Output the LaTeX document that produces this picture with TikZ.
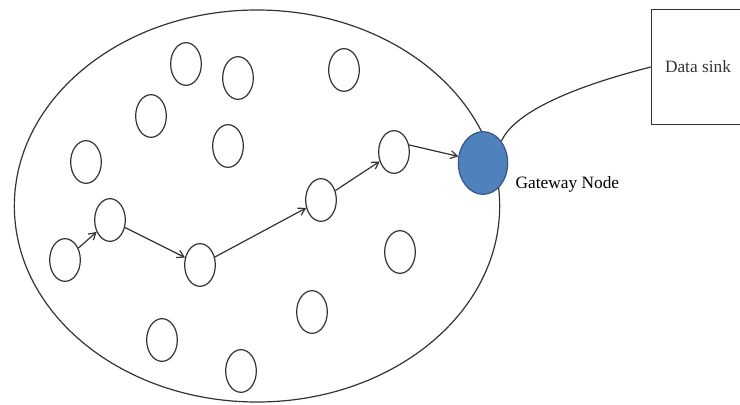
\documentclass[tikz,border=0pt]{standalone}
\usepackage{fontspec}
\setmainfont{Liberation Serif}
\usetikzlibrary{arrows.meta,shapes.geometric}
\definecolor{gwblue}{RGB}{79,129,189}
\definecolor{gwedge}{RGB}{56,83,135}

\begin{document}
\begin{tikzpicture}[x=0.75pt,y=-0.75pt,>={Straight Barb[length=5pt,width=6pt]},
  font=\fontsize{13}{15}\selectfont,
  sensor/.style={ellipse,draw=black!80,line width=0.9pt,minimum width=23pt,minimum height=32pt,inner sep=0pt},
  link/.style={black!80,line width=0.9pt}]
  \useasboundingbox (0,0) rectangle (740,404);
  % sensor field
  \draw[link] (257,206) ellipse [x radius=182pt,y radius=147pt];
  % sensor nodes
  \foreach \n/\x/\y in {1/186/64,2/238/78,3/344/70,4/151/116,5/228/146,6/86/162,
      7/110/220,8/65/260,9/200/265,10/321/200,11/394/152,12/400/252,
      13/312/312,14/162/340,15/241/371}
    \node[sensor] (s\n) at (\x,\y) {};
  \node[ellipse,draw=gwedge,fill=gwblue,line width=0.9pt,minimum width=37pt,minimum height=47pt] (gw) at (483,163) {};
  \node[anchor=west] (gwlab) at (511,184) {Gateway Node};
  \node[draw,link,minimum width=70pt,minimum height=86pt] (sink) at (698,67) {Data sink};
  % route to the gateway
  \draw[link,->] (s8) -- (s7);
  \draw[link,->] (s7) -- (s9);
  \draw[link,->] (s9) -- (s10);
  \draw[link,->] (s10) -- (s11);
  \draw[link,->] (s11.25) -- (gw.165);
  \draw[link] (gw.50) .. controls (518,105) and (600,80) .. (sink.west);
\end{tikzpicture}
\end{document}
